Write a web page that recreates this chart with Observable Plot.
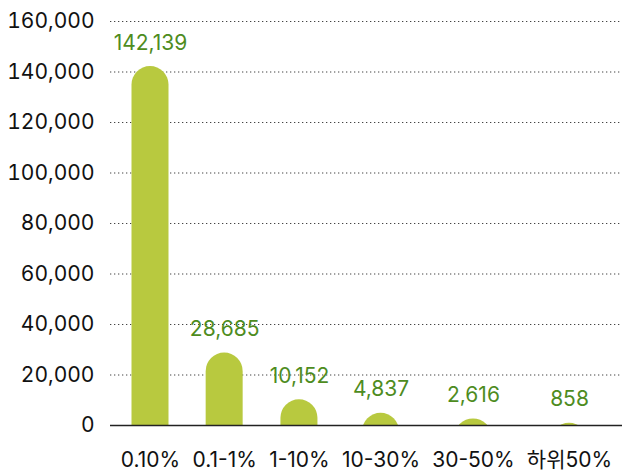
<!DOCTYPE html>
<html>
<head>
<meta charset="utf-8">
<script src="https://cdn.jsdelivr.net/npm/d3@7"></script>
<script src="https://cdn.jsdelivr.net/npm/@observablehq/plot@0.6"></script>
<style>
  html, body { margin: 0; padding: 0; background: #fff; }
</style>
</head>
<body>
<div id="chart"></div>
<script>
const categories = ["0.10%", "0.1-1%", "1-10%", "10-30%", "30-50%", "하위50%"];
const values = [142139, 28685, 10152, 4837, 2616, 858];
const yTicks = [0, 20000, 40000, 60000, 80000, 100000, 120000, 140000, 160000];

const FONT = "Inter, 'Noto Sans CJK KR', sans-serif";
const FS = 21;

// Column spacing in the original follows label widths (label + constant gap)
const ctx = document.createElement("canvas").getContext("2d");
ctx.font = `${FS}px ${FONT}`;
const widths = categories.map(c => ctx.measureText(c).width);
const gap = 13;
const pos = [0];
for (let i = 1; i < categories.length; i++) {
  pos.push(pos[i - 1] + (widths[i - 1] + widths[i]) / 2 + gap);
}
const data = categories.map((c, i) => ({category: c, value: values[i], pos: pos[i]}));

const chart = Plot.plot({
  width: 635,
  height: 470,
  marginTop: 21,
  marginBottom: 45,
  marginLeft: 110,
  marginRight: 13,
  style: {fontFamily: FONT, fontSize: FS + "px", background: "#fff", color: "#111"},
  x: {type: "linear", domain: [pos[0], pos[pos.length - 1]], insetLeft: 40, insetRight: 53, axis: null},
  y: {domain: [0, 160000], axis: null},
  marks: [
    Plot.ruleY(yTicks.filter(d => d > 0), {stroke: "#444", strokeWidth: 1.2, strokeDasharray: "1.3,2.7"}),
    Plot.axisY(yTicks, {
      tickSize: 0,
      tickPadding: 16,
      tickFormat: d => d.toLocaleString("en-US"),
      fontSize: FS,
      fill: "#111",
      label: null
    }),
    Plot.rect(data, {
      x1: "pos", x2: "pos", y1: 0, y2: "value",
      insetLeft: -18.5, insetRight: -18.5, insetBottom: -40,
      rx: 18.5,
      fill: "#b8c93f",
      clip: true
    }),
    Plot.ruleY([0], {stroke: "#222", strokeWidth: 1.3}),
    Plot.text(data, {
      x: "pos", y: "value",
      text: d => d.value.toLocaleString("en-US"),
      lineAnchor: "bottom", dy: -17,
      fill: "#4e8c1e", fontSize: FS
    }),
    Plot.text(data, {
      x: "pos", y: 0,
      text: "category",
      lineAnchor: "bottom", dy: 41,
      fill: "#111", fontSize: FS
    })
  ]
});
document.getElementById("chart").appendChild(chart);
</script>
</body>
</html>
